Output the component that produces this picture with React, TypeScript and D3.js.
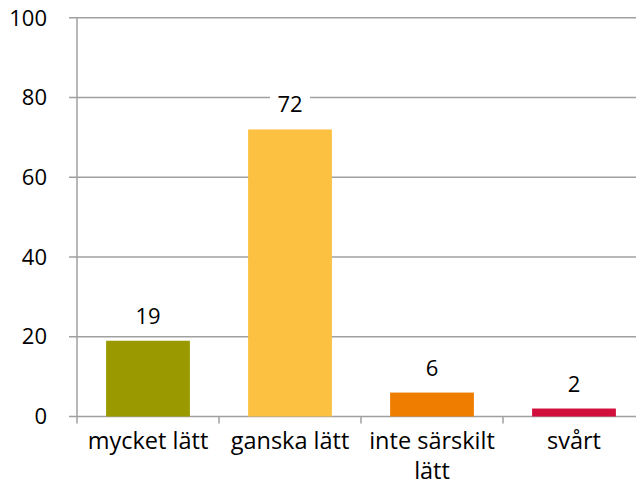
import React from 'react'
import * as d3 from 'd3'

const categories = ['mycket lätt', 'ganska lätt', 'inte särskilt lätt', 'svårt']
const values = [19, 72, 6, 2]
const colors = ['#9A9A00', '#FDC142', '#EF7D00', '#D20F3C']
const yTicks = [0, 20, 40, 60, 80, 100]

// labels wrap like the original axis
const labelLines: Record<string, string[]> = {
  'inte särskilt lätt': ['inte särskilt', 'lätt'],
}

function App() {
  const width = 636
  const height = 495
  const font = '"Open Sans", sans-serif'

  const xScale = d3
    .scaleBand()
    .domain(categories)
    .range([77, 645])
    .paddingInner(0)
    .paddingOuter(0)

  const barWidth = xScale.bandwidth() * 0.59

  const yScale = d3.scaleLinear().domain([0, 100]).range([416.5, 17.8])

  return (
    <svg
      width={width}
      height={height}
      style={{ position: 'absolute', left: 0, top: 0, background: '#fff' }}
      fontFamily={font}
    >
      {/* gridlines and y ticks */}
      {yTicks.map(t => (
        <g key={t} transform={`translate(0 ${yScale(t)})`}>
          <line x1={69} x2={width} stroke="#a0a0a0" strokeWidth={1.5} />
          <text x={47} dy="0.35em" textAnchor="end" fontSize={22} fill="#000">{t}</text>
        </g>
      ))}

      {/* y axis */}
      <line x1={77} x2={77} y1={yScale(100)} y2={yScale(0) + 7} stroke="#a0a0a0" strokeWidth={1.5} />

      {/* category ticks */}
      {categories.map(c => (
        <line key={c} x1={(xScale(c) ?? 0) + xScale.bandwidth()} x2={(xScale(c) ?? 0) + xScale.bandwidth()}
          y1={yScale(0)} y2={yScale(0) + 7} stroke="#a0a0a0" strokeWidth={1.5} />
      ))}

      {/* bars */}
      {categories.map((c, i) => {
        const cx = (xScale(c) ?? 0) + xScale.bandwidth() / 2
        return (
          <g key={c}>
            <rect x={cx - barWidth / 2} y={yScale(values[i])} width={barWidth}
              height={yScale(0) - yScale(values[i])} fill={colors[i]} />
            <rect x={cx - 20} y={yScale(values[i]) - 40} width={40} height={30} fill="#fff" />
            <text x={cx} y={yScale(values[i]) - 17} textAnchor="middle" fontSize={22} fill="#000">{values[i]}</text>
          </g>
        )
      })}

      {/* category labels */}
      {categories.map(c => {
        const cx = (xScale(c) ?? 0) + xScale.bandwidth() / 2
        const lines = labelLines[c] ?? [c]
        return (
          <text key={c} x={cx} y={449} textAnchor="middle" fontSize={23.5} fill="#000">
            {lines.map((l, j) => <tspan key={j} x={cx} dy={j === 0 ? 0 : 30}>{l}</tspan>)}
          </text>
        )
      })}
    </svg>
  )
}

export default App
